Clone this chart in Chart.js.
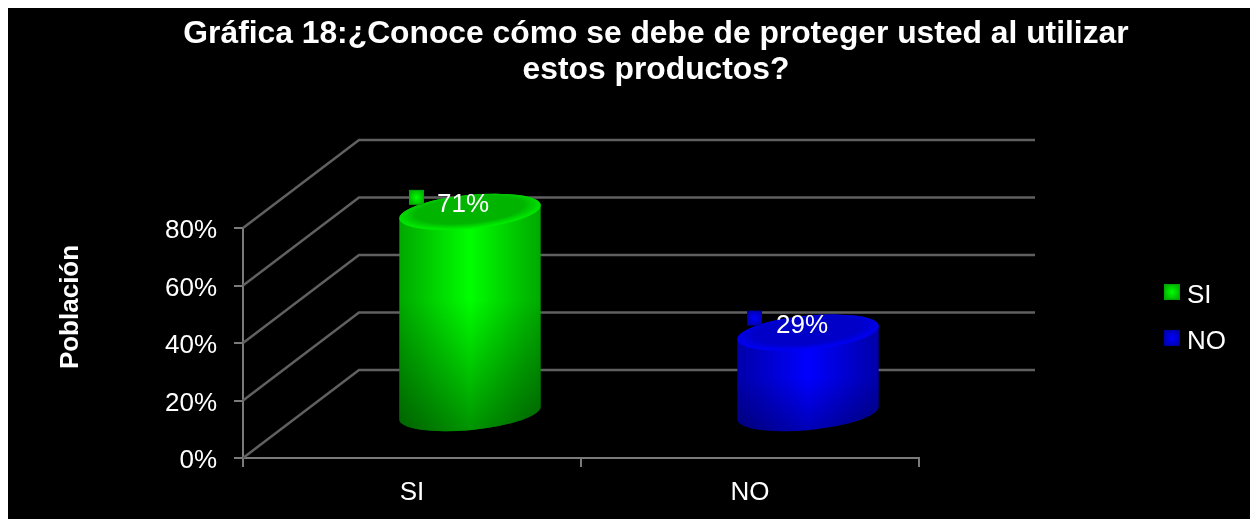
<!DOCTYPE html>
<html><head><meta charset="utf-8">
<script src="https://cdn.jsdelivr.net/npm/chart.js@4"></script>
<style>html,body{margin:0;padding:0;background:#fff}canvas{display:block}</style>
</head><body><canvas id="c" width="1250" height="519"></canvas>
<script>
const categories = ['SI', 'NO'];
const values = [0.71, 0.29];
const valueLabels = ['71%', '29%'];
const titleLines = ['Gráfica 18:¿Conoce cómo se debe de proteger usted al utilizar', 'estos productos?'];
const axisTitle = 'Población';
const bright = ['#00ff00', '#0000ff'];
const edge = ['#00a800', '#0000a8'];
const topFill = ['#00b400', '#0000c8'];
const rim = ['#00ec00', '#0000f4'];
const shade = [0.42, 0.28];
const FONT = '"Liberation Sans", Arial, sans-serif';
const DX = 58, DY = -44;      // depth offset of the back wall
const GRID = '#606060', AXIS = '#7a7a7a';

function marker(ctx, x, y, s, i) {
  ctx.fillStyle = edge[i];
  ctx.fillRect(x, y, s, s);
  const g = ctx.createRadialGradient(x + s/2, y + s/2, 0, x + s/2, y + s/2, s * 0.6);
  g.addColorStop(0, bright[i]);
  g.addColorStop(1, edge[i]);
  ctx.fillStyle = g;
  ctx.fillRect(x + 1, y + 1, s - 2, s - 2);
}
const keyIcons = categories.map((_, i) => {
  const cv = document.createElement('canvas');
  cv.width = 16; cv.height = 24;
  marker(cv.getContext('2d'), 0, 0, 16, i);
  return cv;
});

const wall = {
  id: 'wall',
  beforeDatasetsDraw(chart) {
    const { ctx, scales: { y }, chartArea: a } = chart;
    ctx.save();
    ctx.lineWidth = 2.5;
    ctx.strokeStyle = GRID;
    y.ticks.forEach(t => {
      const p = y.getPixelForValue(t.value);
      ctx.beginPath();
      ctx.moveTo(a.left, p);
      ctx.lineTo(a.left + DX * 2, p + DY * 2);
      ctx.lineTo(a.right + DX * 2, p + DY * 2);
      ctx.stroke();
    });
    ctx.restore();
  }
};

const cylinders = {
  id: 'cylinders',
  beforeDatasetDraw(chart, args) {
    const { ctx } = chart;
    const rot = -5.5 * Math.PI / 180;
    args.meta.data.forEach((bar, i) => {
      const rx = bar.width / 2, ry = 17;
      const cx = bar.x + DX, ty = bar.y + DY + 2, by = bar.base + DY;
      ctx.save();
      ctx.beginPath();
      ctx.ellipse(cx, by, rx, ry, rot, 0, Math.PI);
      ctx.ellipse(cx, ty, rx, ry, rot, Math.PI, 2 * Math.PI);
      ctx.closePath();
      const h = ctx.createLinearGradient(cx - rx, 0, cx + rx, 0);
      h.addColorStop(0, edge[i]);
      h.addColorStop(0.5, bright[i]);
      h.addColorStop(1, edge[i]);
      ctx.fillStyle = h;
      ctx.fill();
      const v = ctx.createLinearGradient(0, ty + ry, 0, by + ry);
      v.addColorStop(0, 'rgba(0,0,0,0)');
      v.addColorStop(0.35, 'rgba(0,0,0,0)');
      v.addColorStop(1, 'rgba(0,0,0,' + shade[i] + ')');
      ctx.fillStyle = v;
      ctx.fill();
      // top cap with a soft, brighter front rim
      ctx.translate(cx, ty);
      ctx.rotate(rot);
      ctx.scale(1, ry / rx);
      const c = ctx.createRadialGradient(0, -rx * 0.12, 0, 0, -rx * 0.12, rx * 1.12);
      c.addColorStop(0, topFill[i]);
      c.addColorStop(0.68, topFill[i]);
      c.addColorStop(0.95, rim[i]);
      c.addColorStop(1, rim[i]);
      ctx.beginPath();
      ctx.arc(0, 0, rx, 0, 2 * Math.PI);
      ctx.fillStyle = c;
      ctx.fill();
      ctx.restore();
    });
    return false;
  },
  afterDatasetsDraw(chart) {
    const { ctx } = chart;
    const meta = chart.getDatasetMeta(0);
    ctx.save();
    meta.data.forEach((bar, i) => {
      const cx = bar.x + DX, ty = bar.y + DY;
      marker(ctx, cx - 61, ty - 20, 15, i);
      ctx.fillStyle = '#fff';
      ctx.font = '26px ' + FONT;
      ctx.textAlign = 'center';
      ctx.textBaseline = 'middle';
      ctx.fillText(valueLabels[i], cx - 7 + i, ty - 5);
    });
    ctx.restore();
  }
};

const placement = {
  id: 'placement',
  beforeDraw(chart) {
    const { ctx } = chart;
    ctx.save();
    ctx.fillStyle = '#000';
    ctx.fillRect(8, 8, chart.width - 8, chart.height - 8);
    ctx.restore();
    const t = chart.titleBlock, l = chart.legend;
    t.left = 62; t.right = 1250;
    l.left = 1150; l.right = 1250; l.top = 263; l.bottom = 380;
  },
  afterDraw(chart) {
    const { ctx } = chart;
    ctx.save();
    ctx.translate(71, 307);
    ctx.rotate(-Math.PI / 2);
    ctx.fillStyle = '#fff';
    ctx.font = 'bold 26px ' + FONT;
    ctx.textAlign = 'center';
    ctx.textBaseline = 'middle';
    ctx.fillText(axisTitle, 0, 0);
    ctx.restore();
  }
};

new Chart(document.getElementById('c'), {
  type: 'bar',
  data: { labels: categories, datasets: [{ label: 'Población', data: values, backgroundColor: bright, barPercentage: 142 / 338, categoryPercentage: 1 }] },
  plugins: [placement, wall, cylinders],
  options: {
    responsive: false,
    animation: false,
    layout: { padding: { left: 0, right: 331, top: 0, bottom: 0 } },
    scales: {
      x: {
        offset: true,
        border: { color: AXIS, width: 2 },
        grid: { drawOnChartArea: false, color: AXIS, lineWidth: 2, tickLength: 9 },
        ticks: { color: '#fff', font: { family: FONT, size: 26 }, padding: 10, maxRotation: 0 },
        afterFit(s) { s.height = 61; }
      },
      y: {
        min: 0, max: 0.8,
        border: { color: AXIS, width: 2 },
        grid: { drawOnChartArea: false, color: AXIS, lineWidth: 2, tickLength: 9 },
        ticks: { stepSize: 0.2, color: '#fff', font: { family: FONT, size: 26 }, padding: 17, labelOffset: 3, callback: v => Math.round(v * 100) + '%' },
        afterFit(s) { s.width = 243; }
      }
    },
    plugins: {
      title: {
        display: true,
        text: titleLines,
        color: '#fff',
        font: { family: FONT, size: 31.8, weight: 'bold', lineHeight: '36px' },
        padding: { top: 16, bottom: 140 }
      },
      legend: {
        position: 'chartArea',
        align: 'start',
        labels: {
          color: '#fff',
          font: { family: FONT, size: 26 },
          usePointStyle: true,
          boxWidth: 4,
          padding: 20,
          generateLabels: () => categories.map((c, i) => ({ text: c, pointStyle: keyIcons[i], fillStyle: bright[i], strokeStyle: bright[i], lineWidth: 0, fontColor: '#fff', index: i, datasetIndex: 0 }))
        }
      },
      tooltip: { enabled: false }
    }
  }
});
</script></body></html>
